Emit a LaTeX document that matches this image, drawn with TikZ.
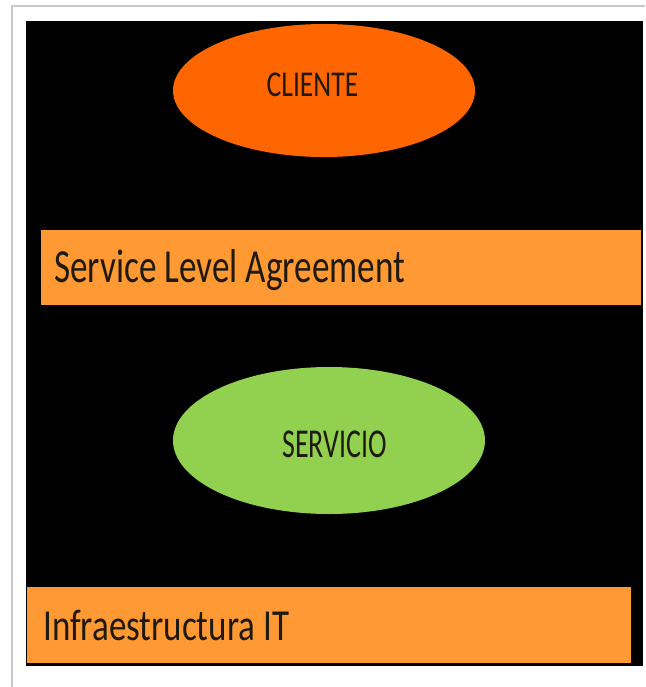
\documentclass[tikz,border=0pt]{standalone}
\usepackage{fontspec}
\usepackage{graphicx}
\setmainfont{Carlito}
\usetikzlibrary{shapes.geometric}
\definecolor{frameGray}{HTML}{C8C8C8}
\definecolor{clientOrange}{HTML}{FF6600}
\definecolor{barOrange}{HTML}{FF9933}
\definecolor{serviceGreen}{HTML}{92D050}
\definecolor{inkDark}{HTML}{1E1A10}
\tikzset{
  oval/.style={ellipse, draw=none, inner sep=0pt},
  bar/.style={rectangle, draw=none, inner sep=0pt, anchor=north west},
  label text/.style={inner sep=0pt, text=inkDark},
}
\begin{document}
\begin{tikzpicture}[x=1pt, y=-1pt]
  \useasboundingbox (0,0) rectangle (645,687);
  \fill[white] (0,0) rectangle (645,687);
  % thin grey page frame
  \draw[frameGray, line width=2pt] (12,687) -- (12,6) -- (645,6);
  % black panel
  \fill[black] (26,21) rectangle (643,666);

  % client ellipse
  \node[oval, fill=clientOrange, minimum width=302pt, minimum height=133pt] (cliente) at (324,90.5) {};
  \node[label text, font=\fontsize{36.4pt}{40pt}\selectfont] (clienteTxt) at (312.5,84.5)
    {\scalebox{0.76}[1]{CLIENTE}};

  % service level agreement bar
  \node[bar, fill=barOrange, minimum width=600pt, minimum height=75pt] (sla) at (41,229.5) {};
  \node[label text, anchor=base west, font=\fontsize{47.5pt}{52pt}\selectfont] (slaTxt) at (54,282)
    {\scalebox{0.74}[1]{Service Level Agreement}};

  % service ellipse
  \node[oval, fill=serviceGreen, minimum width=312pt, minimum height=147pt] (servicio) at (329,440.5) {};
  \node[label text, font=\fontsize{41pt}{45pt}\selectfont] (servicioTxt) at (334.5,444)
    {\scalebox{0.68}[1]{SERVICIO}};

  % infrastructure bar
  \node[bar, fill=barOrange, minimum width=604pt, minimum height=76pt] (infra) at (27,587) {};
  \node[label text, anchor=base west, font=\fontsize{44.3pt}{48pt}\selectfont] (infraTxt) at (43,640)
    {\scalebox{0.79}[1]{Infraestructura IT}};
\end{tikzpicture}
\end{document}
